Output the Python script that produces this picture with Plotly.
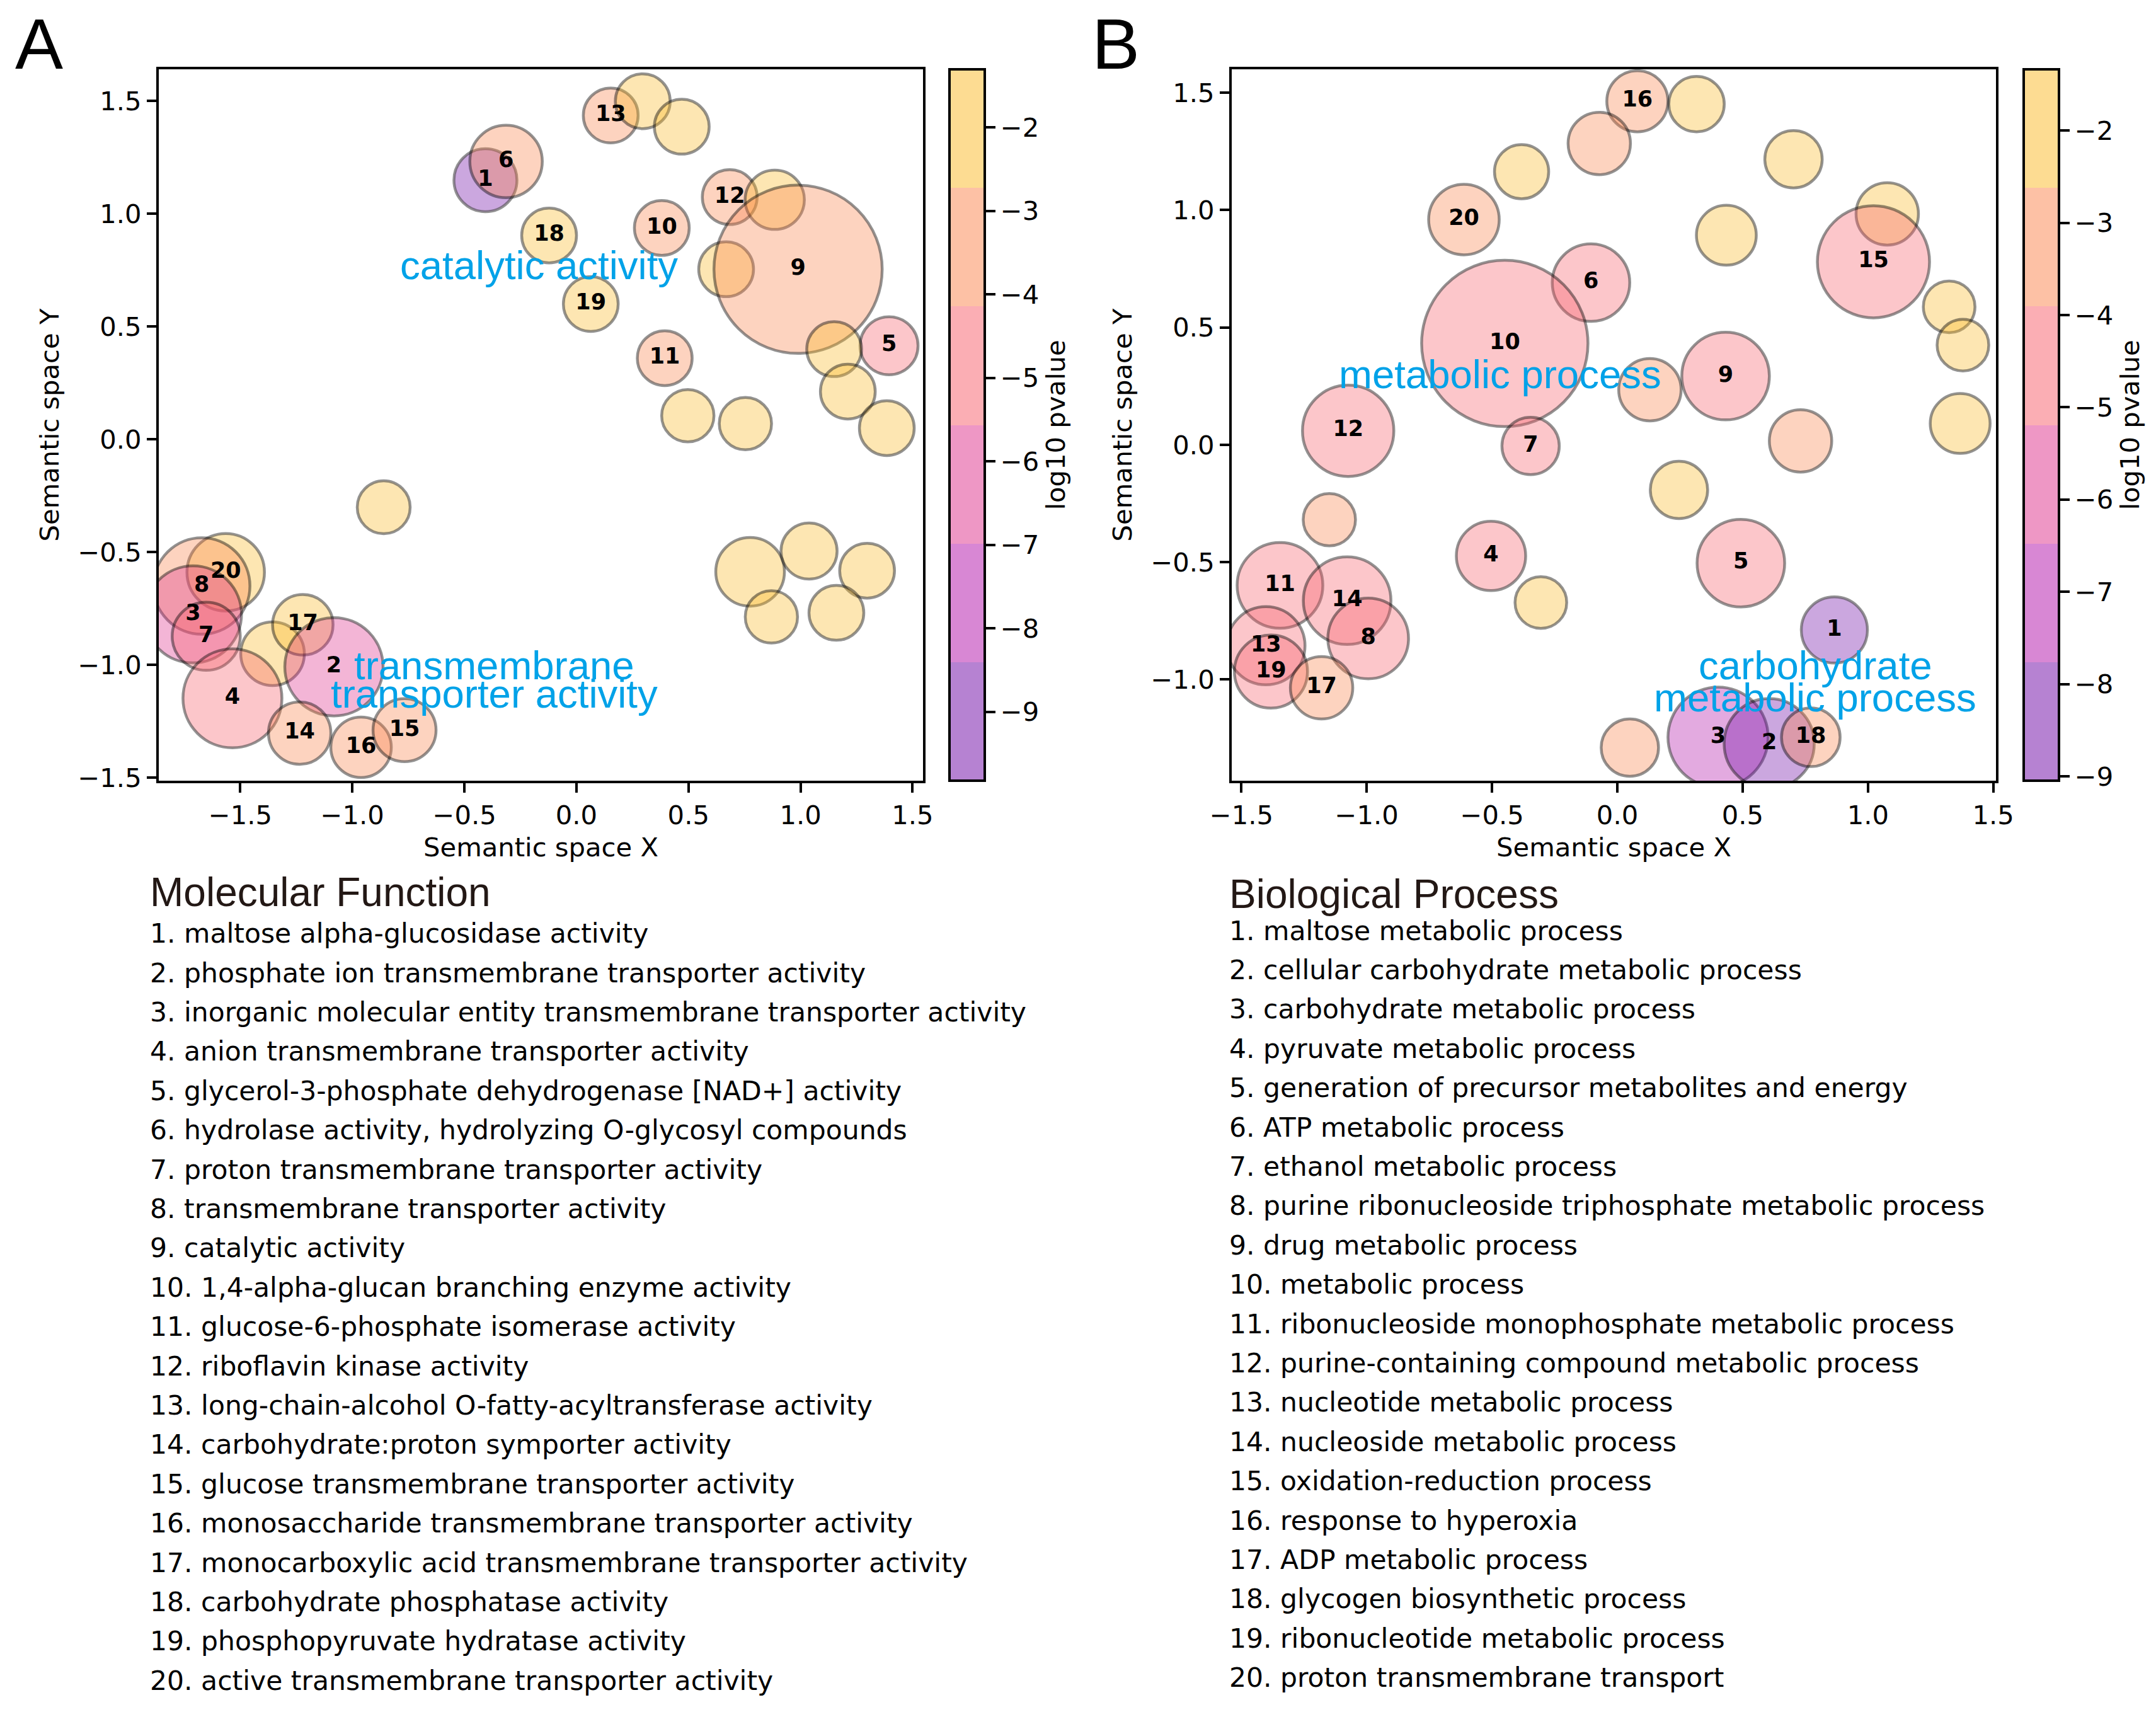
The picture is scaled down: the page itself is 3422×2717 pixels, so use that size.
import plotly.graph_objects as go

W, H = 3422, 2717

# ---------------- Panel A : Molecular Function ----------------
mf_x = [-0.406, -0.314, 0.153, 0.296, 0.470, 0.684, 0.885, 0.381, -0.122, 0.064,
        0.668, 0.989, 0.394, 1.395, 1.150, 1.211, 1.385, 0.497, 0.754, -0.860,
        0.775, 1.038, 1.297, 0.870, 1.160, -1.565, -1.672, -1.711, -1.652, -1.356,
        -1.221, -1.082, -1.535, -1.235, -0.961, -0.767]
mf_y = [1.149, 1.232, 1.436, 1.499, 1.386, 1.074, 1.062, 0.937, 0.904, 0.600,
        0.754, 0.754, 0.360, 0.415, 0.400, 0.212, 0.050, 0.105, 0.070, -0.301,
        -0.587, -0.495, -0.582, -0.787, -0.769, -0.589, -0.650, -0.776, -0.873, -0.950,
        -0.822, -1.008, -1.148, -1.302, -1.365, -1.289]
mf_size = [104, 119, 91, 91, 91, 91, 98, 91, 91, 91,
           91, 271, 91, 96, 91, 91, 91, 87, 87, 88,
           113, 93, 91, 87, 91, 127, 157, 158, 112, 105,
           100, 160, 161, 103, 100, 104]
mf_logp = [-9.4, -3.3, -3.1, -2.2, -2.0, -3.0, -2.3, -3.2, -2.5, -2.6,
           -2.1, -3.6, -2.9, -4.6, -2.0, -2.1, -1.9, -2.2, -2.0, -2.3,
           -2.1, -2.0, -2.2, -2.1, -2.0, -2.6, -3.0, -6.2, -5.0, -2.4,
           -2.5, -6.6, -4.9, -3.4, -3.3, -3.2]
mf_label = ["1", "6", "13", "", "", "12", "", "10", "18", "19",
            "", "9", "11", "5", "", "", "", "", "", "",
            "", "", "", "", "", "20", "8", "3", "7", "",
            "17", "2", "4", "14", "16", "15"]
mf_cbar_range = [-9.824, -1.306]

# ---------------- Panel B : Biological Process ----------------
bp_x = [0.080, 0.316, -0.072, -0.382, 0.703, -0.612, 0.435, 1.077, 1.022, -0.105,
        -0.449, 1.324, 1.379, 1.368, 0.130, 0.432, -1.074, -0.346, 0.731, 0.246,
        -1.149, -0.504, -0.305, 0.493, 0.866, -1.346, -1.078, -0.994, -1.402, -1.382,
        -1.180, 0.050, 0.402, 0.606, 0.772]
bp_y = [1.464, 1.452, 1.284, 1.164, 1.217, 0.960, 0.893, 0.984, 0.780, 0.691,
        0.432, 0.588, 0.425, 0.091, 0.235, 0.293, 0.060, -0.005, 0.017, -0.192,
        -0.319, -0.473, -0.672, -0.504, -0.789, -0.599, -0.664, -0.825, -0.856, -0.966,
        -1.035, -1.290, -1.246, -1.273, -1.246]
bp_size = [101, 92, 103, 90, 95, 116, 99, 103, 182, 127,
           268, 86, 86, 99, 103, 143, 149, 95, 103, 95,
           87, 114, 86, 143, 109, 140, 143, 132, 128, 120,
           103, 95, 163, 147, 97]
bp_logp = [-3.2, -2.0, -3.1, -2.1, -2.0, -3.3, -2.2, -2.1, -4.6, -4.7,
           -4.8, -2.0, -2.1, -2.2, -3.0, -4.5, -4.6, -4.4, -3.1, -2.2,
           -3.0, -4.5, -2.1, -4.7, -8.5, -4.5, -4.6, -4.8, -4.9, -4.7,
           -3.3, -3.0, -7.0, -8.8, -3.2]
bp_label = ["16", "", "", "", "", "20", "", "", "15", "6",
            "10", "", "", "", "", "9", "12", "7", "", "",
            "", "4", "", "5", "1", "11", "14", "8", "13", "19",
            "17", "", "3", "2", "18"]
bp_cbar_range = [-9.047, -1.337]

mf_terms = [
    "maltose alpha-glucosidase activity",
    "phosphate ion transmembrane transporter activity",
    "inorganic molecular entity transmembrane transporter activity",
    "anion transmembrane transporter activity",
    "glycerol-3-phosphate dehydrogenase [NAD+] activity",
    "hydrolase activity, hydrolyzing O-glycosyl compounds",
    "proton transmembrane transporter activity",
    "transmembrane transporter activity",
    "catalytic activity",
    "1,4-alpha-glucan branching enzyme activity",
    "glucose-6-phosphate isomerase activity",
    "riboflavin kinase activity",
    "long-chain-alcohol O-fatty-acyltransferase activity",
    "carbohydrate:proton symporter activity",
    "glucose transmembrane transporter activity",
    "monosaccharide transmembrane transporter activity",
    "monocarboxylic acid transmembrane transporter activity",
    "carbohydrate phosphatase activity",
    "phosphopyruvate hydratase activity",
    "active transmembrane transporter activity",
]
bp_terms = [
    "maltose metabolic process",
    "cellular carbohydrate metabolic process",
    "carbohydrate metabolic process",
    "pyruvate metabolic process",
    "generation of precursor metabolites and energy",
    "ATP metabolic process",
    "ethanol metabolic process",
    "purine ribonucleoside triphosphate metabolic process",
    "drug metabolic process",
    "metabolic process",
    "ribonucleoside monophosphate metabolic process",
    "purine-containing compound metabolic process",
    "nucleotide metabolic process",
    "nucleoside metabolic process",
    "oxidation-reduction process",
    "response to hyperoxia",
    "ADP metabolic process",
    "glycogen biosynthetic process",
    "ribonucleotide metabolic process",
    "proton transmembrane transport",
]

mf_groups = [("catalytic activity", -0.167, 0.771),
             ("transmembrane", -0.368, -1.002),
             ("transporter activity", -0.368, -1.127)]
bp_groups = [("metabolic process", -0.468, 0.301),
             ("carbohydrate", 0.790, -0.940),
             ("metabolic process", 0.790, -1.077)]

# ---------------- styling ----------------
band_colors = [(109, 5, 165), (177, 15, 169), (221, 47, 139),
               (247, 93, 105), (251, 131, 75), (251, 185, 37)]
ALPHA = 0.5


def step_scale(cols):
    n = len(cols)
    sc = []
    for i, c in enumerate(cols):
        s = "rgba(%d,%d,%d,%.2f)" % (c[0], c[1], c[2], ALPHA)
        sc.append([i / n, s])
        sc.append([(i + 1) / n, s])
    return sc


cscale = step_scale(band_colors)
TICKF = dict(family="DejaVu Sans", size=41.7, color="black")
BLUE = "#00a2e8"

ytop, ybot = 110, 1239
yd = [1 - ybot / H, 1 - ytop / H]
panels = [
    dict(xd=[252 / W, 1465 / W], xr=[-1.8637, 1.5465], yr=[-1.5131, 1.6405],
         cbx=1507 / W, xs=mf_x, ys=mf_y, ss=mf_size, cs=mf_logp, ls=mf_label,
         cr=mf_cbar_range, groups=mf_groups),
    dict(xd=[1955 / W, 3168 / W], xr=[-1.5385, 1.5108], yr=[-1.431, 1.600],
         cbx=3212 / W, xs=bp_x, ys=bp_y, ss=bp_size, cs=bp_logp, ls=bp_label,
         cr=bp_cbar_range, groups=bp_groups),
]

fig = go.Figure()
annotations = []
for i, p in enumerate(panels):
    sfx = "" if i == 0 else str(i + 1)
    xa, ya = "x" + sfx, "y" + sfx
    fig.add_trace(go.Scatter(
        x=p["xs"], y=p["ys"], mode="markers", xaxis=xa, yaxis=ya, showlegend=False,
        hoverinfo="skip",
        marker=dict(size=[s - 4 for s in p["ss"]], sizemode="diameter",
                    color=p["cs"], colorscale=cscale, cmin=p["cr"][0], cmax=p["cr"][1],
                    line=dict(color="rgba(0,0,0,0.6)", width=4.5),
                    showscale=True,
                    colorbar=dict(x=p["cbx"], xanchor="left", xpad=0,
                                  y=(yd[0] + yd[1]) / 2, yanchor="middle", ypad=0,
                                  len=(ybot - ytop) / H, lenmode="fraction",
                                  thickness=56, thicknessmode="pixels",
                                  outlinewidth=4, outlinecolor="black",
                                  tickmode="linear", tick0=-2, dtick=1,
                                  ticks="outside", ticklen=15, tickwidth=4,
                                  tickcolor="black", tickfont=TICKF,
                                  title=dict(text="log10 pvalue", side="right",
                                             font=TICKF)))))
    fig.add_trace(go.Scatter(
        x=p["xs"], y=p["ys"], mode="text", text=p["ls"], xaxis=xa, yaxis=ya,
        showlegend=False, hoverinfo="skip", textposition="middle center",
        textfont=dict(family="DejaVu Sans", size=35, color="black", weight="bold")))
    for t, gx, gy in p["groups"]:
        annotations.append(dict(text=t, x=gx, y=gy, xref=xa, yref=ya, showarrow=False,
                                xanchor="center", yanchor="middle",
                                font=dict(family="Liberation Sans", size=63.5, color=BLUE)))
    axcommon = dict(showline=True, linewidth=4, linecolor="black", mirror=True,
                    ticks="outside", ticklen=15, tickwidth=4, tickcolor="black",
                    showgrid=False, zeroline=False, tickfont=TICKF,
                    tickformat=".1f", automargin=False)
    fig.update_layout(**{
        "xaxis" + sfx: dict(domain=p["xd"], range=p["xr"], anchor=ya, dtick=0.5,
                            tick0=0, title=dict(text="Semantic space X", font=TICKF,
                                                standoff=14), **axcommon),
        "yaxis" + sfx: dict(domain=yd, range=p["yr"], anchor=xa, dtick=0.5, tick0=0,
                            title=dict(text="Semantic space Y", font=TICKF,
                                       standoff=18), **axcommon),
    })

# panel letters
for letter, px in (("A", 22), ("B", 1731)):
    annotations.append(dict(text=letter, x=px / W, y=1 - 70 / H, xref="paper", yref="paper",
                            showarrow=False, xanchor="left", yanchor="middle",
                            font=dict(family="Liberation Sans", size=114, color="black")))

# term lists
LINE = 62.4
for title, terms, px, ty, y0 in (("Molecular Function", mf_terms, 236, 1416, 1481.6),
                                 ("Biological Process", bp_terms, 1949, 1419, 1477.0)):
    annotations.append(dict(text=title, x=px / W, y=1 - ty / H, xref="paper", yref="paper",
                            showarrow=False, xanchor="left", yanchor="middle",
                            font=dict(family="Liberation Sans", size=64, color="#231815")))
    for k, t in enumerate(terms):
        annotations.append(dict(text="%d. %s" % (k + 1, t), x=px / W,
                                y=1 - (y0 + k * LINE) / H, xref="paper", yref="paper",
                                showarrow=False, xanchor="left", yanchor="middle",
                                font=dict(family="DejaVu Sans", size=42.5, color="black")))

fig.update_layout(width=W, height=H, autosize=False,
                  margin=dict(l=0, r=0, t=0, b=0, autoexpand=False),
                  paper_bgcolor="white", plot_bgcolor="white",
                  annotations=annotations)

fig.write_html("out.html", config={"displayModeBar": False},
               post_script="document.body.style.margin='0';")
